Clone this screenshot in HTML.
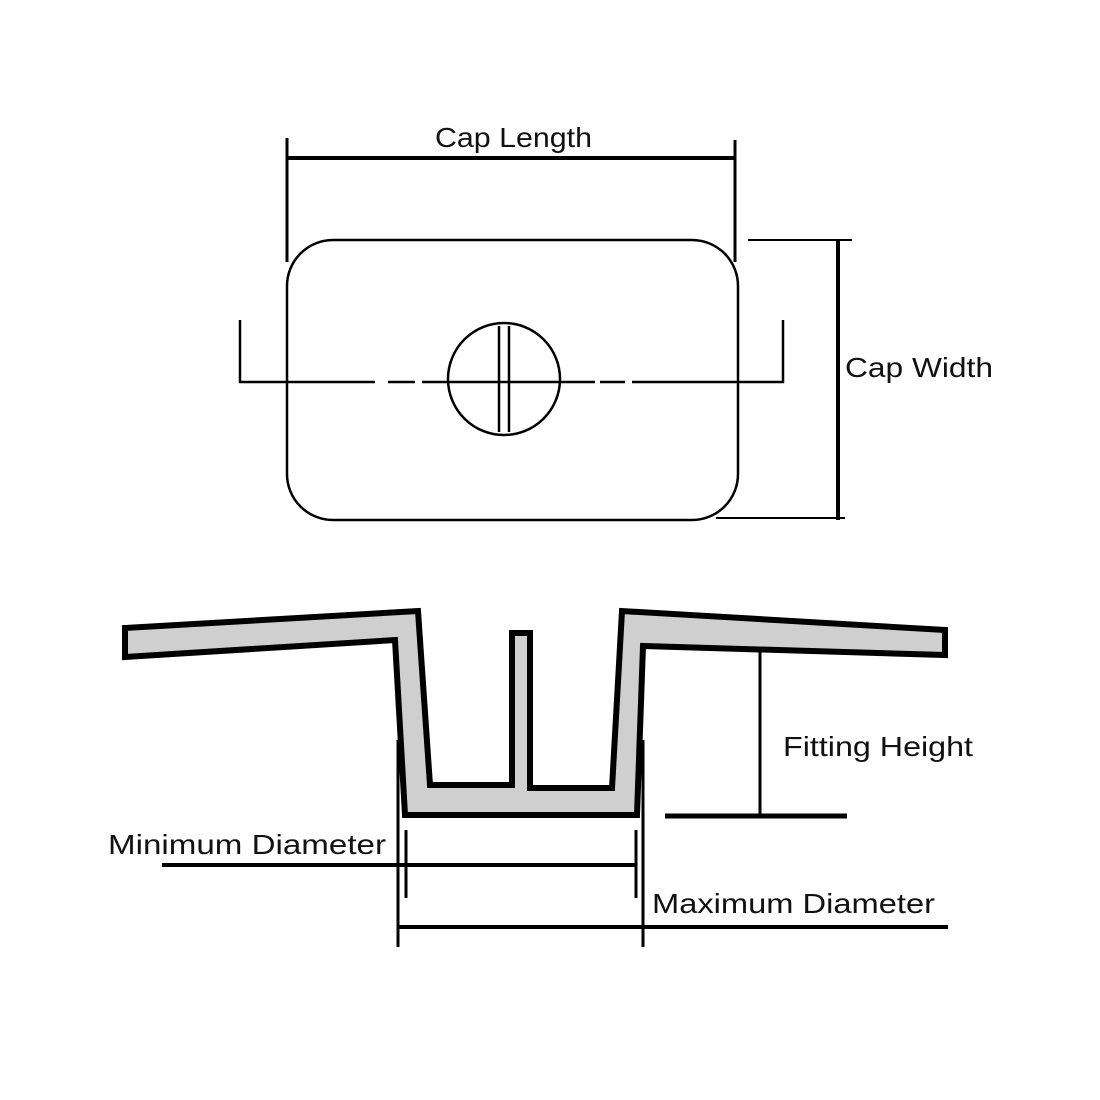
<!DOCTYPE html>
<html><head><meta charset="utf-8"><style>html,body{margin:0;padding:0;background:#fff}svg{display:block}</style></head>
<body>
<svg width="1100" height="1100" viewBox="0 0 1100 1100" xmlns="http://www.w3.org/2000/svg">
<rect width="1100" height="1100" fill="#fff"/>
<g fill="none" stroke="#000">
<!-- cap length -->
<line x1="287" y1="158" x2="735" y2="158" stroke-width="4"/>
<line x1="287" y1="138" x2="287" y2="262" stroke-width="3"/>
<line x1="735" y1="140" x2="735" y2="262" stroke-width="3"/>
<!-- cap width -->
<line x1="838" y1="240" x2="838" y2="520" stroke-width="4"/>
<line x1="748" y1="240" x2="852" y2="240" stroke-width="2"/>
<line x1="716" y1="518" x2="845" y2="518" stroke-width="2"/>
<!-- rect -->
<rect x="287" y="240" width="451" height="280" rx="46" ry="46" stroke-width="2.5"/>
<!-- bracket/centerline -->
<polyline points="240,320 240,382 375,382" stroke-width="2.5"/>
<line x1="388" y1="382" x2="415" y2="382" stroke-width="2.5"/>
<line x1="422" y1="382" x2="595" y2="382" stroke-width="2.5"/>
<line x1="600" y1="382" x2="625" y2="382" stroke-width="2.5"/>
<polyline points="632,382 783,382 783,320" stroke-width="2.5"/>
<circle cx="504" cy="379" r="56" stroke-width="2.5"/>
<line x1="499" y1="326" x2="499" y2="432" stroke-width="2.5"/>
<line x1="509" y1="326" x2="509" y2="432" stroke-width="2.5"/>
<!-- profile -->
<polygon points="125,628 418,611 430,785 512,785 512,633 530,633 530,788 612,788 622,611 945,630 945,655 643,646 637,815 405,815 395,640 125,657" fill="#cfcfcf" stroke-width="6" stroke-linejoin="miter"/>
<!-- fitting height -->
<line x1="760" y1="650" x2="760" y2="816" stroke-width="3"/>
<line x1="665" y1="816" x2="847" y2="816" stroke-width="5"/>
<!-- diameters -->
<line x1="398" y1="740" x2="398" y2="947" stroke-width="3"/>
<line x1="643" y1="740" x2="643" y2="947" stroke-width="3"/>
<line x1="406" y1="830" x2="406" y2="898" stroke-width="3"/>
<line x1="636" y1="830" x2="636" y2="898" stroke-width="3"/>
<line x1="162" y1="865" x2="636" y2="865" stroke-width="4"/>
<line x1="398" y1="927" x2="948" y2="927" stroke-width="4"/>
</g>
<g font-family="Liberation Sans, DejaVu Sans, sans-serif" font-size="28" fill="#111">
<text x="435" y="147" textLength="157" lengthAdjust="spacingAndGlyphs">Cap Length</text>
<text x="845" y="377" textLength="148" lengthAdjust="spacingAndGlyphs">Cap Width</text>
<text x="783" y="756" textLength="190" lengthAdjust="spacingAndGlyphs">Fitting Height</text>
<text x="108" y="854" textLength="278" lengthAdjust="spacingAndGlyphs">Minimum Diameter</text>
<text x="652" y="913" textLength="283" lengthAdjust="spacingAndGlyphs">Maximum Diameter</text>
</g>
</svg>
</body></html>
